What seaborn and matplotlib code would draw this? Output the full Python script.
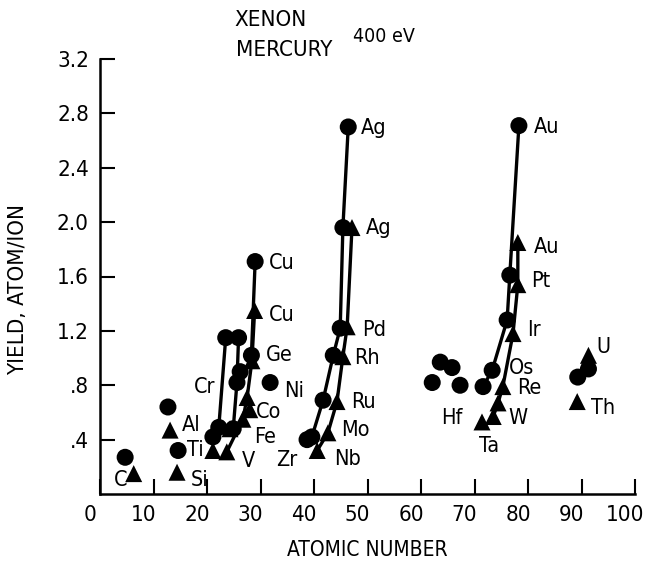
import matplotlib
matplotlib.use("Agg")
import matplotlib.pyplot as plt
import matplotlib.transforms as mtransforms
from matplotlib import font_manager
import pandas as pd
import seaborn as sns

# --- Data ---
# Xenon ion bombardment (circles)
xenon_z = [4.7, 12.7, 14.6, 21.1, 22.2, 24.9, 23.5, 25.9, 25.6, 26.2, 28.3, 29.0,
           31.8, 38.7, 39.6, 41.7, 43.6, 44.9, 45.4, 46.4,
           62.1, 63.6, 65.8, 67.3, 71.6, 73.3, 76.1, 76.6, 78.3, 89.3, 91.3]
xenon_yield = [0.27, 0.64, 0.32, 0.42, 0.49, 0.48, 1.15, 1.15, 0.82, 0.90, 1.02, 1.71,
               0.82, 0.40, 0.42, 0.69, 1.02, 1.22, 1.96, 2.70,
               0.82, 0.97, 0.93, 0.80, 0.79, 0.91, 1.28, 1.61, 2.71, 0.86, 0.92]

# Mercury ion bombardment (triangles)
mercury_z = [6.3, 13.1, 14.4, 21.1, 23.7, 24.3, 26.7, 27.5, 28.0, 28.4, 28.9,
             40.6, 42.6, 44.3, 45.4, 46.2, 47.1,
             71.4, 73.5, 74.4, 75.3, 77.2, 78.1, 78.1, 89.2, 91.3]
mercury_yield = [0.15, 0.47, 0.16, 0.32, 0.31, 0.48, 0.55, 0.71, 0.62, 0.98, 1.35,
                 0.32, 0.45, 0.68, 1.01, 1.23, 1.96,
                 0.53, 0.57, 0.67, 0.79, 1.18, 1.54, 1.85, 0.68, 1.02]

# connecting lines (one trace per transition-metal row)
line_traces = {
    "xe_3d_a": ([22.2, 23.5], [0.49, 1.15]),
    "xe_3d_b": ([24.9, 25.6, 25.9], [0.48, 0.82, 1.15]),
    "xe_3d_cu": ([28.3, 29.0], [1.02, 1.71]),
    "hg_3d": ([23.7, 26.7, 27.5, 28.4, 28.9], [0.31, 0.55, 0.71, 0.98, 1.35]),
    "xe_4d": ([39.6, 41.7, 43.6, 44.9, 45.4, 46.4], [0.42, 0.69, 1.02, 1.22, 1.96, 2.70]),
    "hg_4d": ([40.6, 42.6, 44.3, 45.4, 46.2, 47.1], [0.32, 0.45, 0.68, 1.01, 1.23, 1.96]),
    "xe_5d": ([71.6, 73.3, 76.1, 76.6, 78.3], [0.79, 0.91, 1.28, 1.61, 2.71]),
    "hg_5d": ([73.5, 74.4, 75.3, 77.2, 78.1, 78.1], [0.57, 0.67, 0.79, 1.18, 1.54, 1.85]),
}

# element labels: (text, atomic-number position, yield position)
element_labels = [
    ("C", 2.6, 0.10), ("Al", 15.3, 0.51), ("Ti", 16.2, 0.32), ("Si", 17.0, 0.10),
    ("Cr", 17.6, 0.79), ("Ni", 34.4, 0.76), ("Co", 29.1, 0.60), ("Fe", 28.8, 0.42),
    ("V", 26.5, 0.24), ("Zr", 32.9, 0.25), ("Ge", 31.0, 1.02), ("Cu", 31.6, 1.32),
    ("Cu", 31.6, 1.70), ("Ag", 48.8, 2.69), ("Ag", 49.7, 1.96), ("Pd", 49.0, 1.21),
    ("Rh", 47.5, 1.00), ("Ru", 46.9, 0.68), ("Mo", 45.0, 0.47), ("Nb", 43.7, 0.26),
    ("Au", 81.1, 2.70), ("Au", 81.1, 1.82), ("Pt", 80.5, 1.57), ("Ir", 79.8, 1.21),
    ("Os", 76.4, 0.93), ("Re", 77.9, 0.78), ("W", 76.4, 0.56), ("Ta", 70.8, 0.35),
    ("Hf", 63.7, 0.56), ("U", 92.7, 1.08), ("Th", 91.8, 0.63),
]

x_ticks = list(range(0, 101, 10))
y_ticks = [0.4, 0.8, 1.2, 1.6, 2.0, 2.4, 2.8, 3.2]
y_tick_labels = [".4", ".8", "1.2", "1.6", "2.0", "2.4", "2.8", "3.2"]

# --- Build tables ---
df_pts = pd.concat([
    pd.DataFrame({"z": xenon_z, "yield": xenon_yield, "ion": "XENON"}),
    pd.DataFrame({"z": mercury_z, "yield": mercury_yield, "ion": "MERCURY"}),
], ignore_index=True)

df_lines = pd.concat([
    pd.DataFrame({"z": zs, "yield": ys, "trace": name})
    for name, (zs, ys) in line_traces.items()
], ignore_index=True)

# pick a narrow face if one is installed (the scan uses a condensed typeface)
narrow = None
for f in font_manager.fontManager.ttflist:
    if f.stretch in ("condensed", "semi-condensed") or "Narrow" in f.name \
            or "Condensed" in f.name:
        narrow = f.name
        break
families = ([narrow] if narrow else []) + ["DejaVu Sans"]

# --- Plot ---
sns.set_theme(style="ticks")
plt.rcParams["font.family"] = families
plt.rcParams["font.stretch"] = "condensed"
plt.rcParams["text.color"] = "black"
plt.rcParams["axes.labelcolor"] = "black"

fig = plt.figure(figsize=(6.51, 5.62), dpi=100)
ax = fig.add_axes([100 / 651, 1 - 494 / 562, 535 / 651, 435 / 562])

sns.lineplot(data=df_lines, x="z", y="yield", units="trace", estimator=None,
             sort=False, color="black", lw=2.4, ax=ax, legend=False)
sns.scatterplot(data=df_pts, x="z", y="yield", style="ion",
                markers={"XENON": "o", "MERCURY": "^"}, color="black",
                s=150, linewidth=0, ax=ax, legend=False, zorder=3)

for text, zx, yy in element_labels:
    ax.text(zx, yy, text, fontsize=15.5, ha="left", va="center", color="black")

ax.set_xlim(0, 100)
ax.set_ylim(0, 3.2)
ax.set_xticks(x_ticks)
ax.set_xticklabels([str(v) for v in x_ticks])
ax.set_yticks(y_ticks)
ax.set_yticklabels(y_tick_labels)
ax.tick_params(direction="in", length=11, width=1.5, labelsize=16, pad=8,
               colors="black")
for lab in ax.get_xticklabels():
    lab.set_transform(lab.get_transform()
                      + mtransforms.ScaledTranslation(-0.1, 0, fig.dpi_scale_trans))

sns.despine(ax=ax)
for side in ("left", "bottom"):
    ax.spines[side].set_linewidth(1.8)
    ax.spines[side].set_color("black")

ax.set_xlabel("ATOMIC NUMBER", fontsize=15, labelpad=11)
ax.set_ylabel("YIELD, ATOM/ION", fontsize=16)
ax.yaxis.set_label_coords(-0.135, 0.47)

fig.text(234 / 651, 1 - 20 / 562, "XENON", fontsize=16, va="center", ha="left")
fig.text(236 / 651, 1 - 50 / 562, "MERCURY", fontsize=16, va="center", ha="left")
fig.text(353 / 651, 1 - 36 / 562, "400 eV", fontsize=14, va="center", ha="left")

fig.savefig("out.png", dpi=100, facecolor="white")
